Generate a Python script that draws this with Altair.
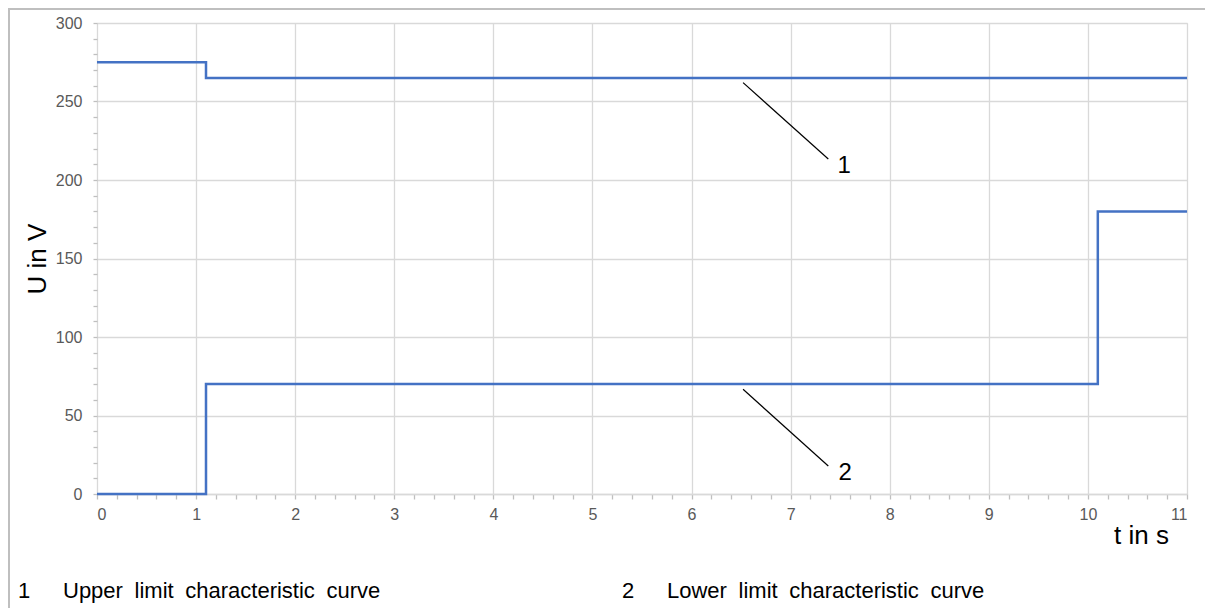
import altair as alt
import pandas as pd

# --- data -------------------------------------------------------------
upper_t = [0, 1.1, 11]
upper_u = [275, 265, 265]
lower_t = [0, 1.1, 10.1, 11]
lower_u = [0, 70, 180, 180]

x_ticks = [round(i * 0.2, 1) for i in range(56)]
y_ticks = list(range(0, 301, 10))

leader_labels = ["1", "2"]
leader_x1 = [6.52, 6.52]
leader_y1 = [262.0, 66.7]
leader_x2 = [7.38, 7.38]
leader_y2 = [213.4, 17.8]
label_x = [7.54, 7.55]
label_y = [209.0, 13.4]

footer_nums = ["1", "2"]
footer_texts = ["Upper \u2005limit \u2005characteristic \u2005curve",
                "Lower \u2005limit \u2005characteristic \u2005curve"]

# --- tables -------------------------------------------------------------
curves = pd.concat([
    pd.DataFrame({"t": upper_t, "U": upper_u, "curve": "upper"}),
    pd.DataFrame({"t": lower_t, "U": lower_u, "curve": "lower"}),
])
leaders = pd.DataFrame({"lab": leader_labels, "x1": leader_x1, "y1": leader_y1,
                        "x2": leader_x2, "y2": leader_y2,
                        "lx": label_x, "ly": label_y})

FONT = "Liberation Sans"
GRID = "#d9d9d9"
TICK = "#bfbfbf"
LABEL = "#595959"

is_int_x = "abs(datum.value - round(datum.value)) < 1e-6"
is_50_y = "datum.value % 50 === 0"

x_scale = alt.Scale(domain=[0, 11], nice=False, zero=False)
y_scale = alt.Scale(domain=[0, 300], nice=False)

x_axis = alt.Axis(
    values=x_ticks, tickCount=200, labelOverlap=False,
    labelExpr=f"{is_int_x} ? format(datum.value, 'd') : ''",
    grid=True, gridColor=GRID, gridWidth=1.3,
    gridOpacity={"condition": {"test": is_int_x, "value": 1}, "value": 0},
    tickColor=TICK, tickSize=5, tickWidth=1.3,
    domainColor=GRID, domainWidth=1.3,
    labelFont=FONT, labelFontSize=16, labelColor=LABEL, labelPadding=7,
    title="t in s", titleFont=FONT, titleFontSize=26, titleFontWeight="normal",
    titleColor="black", titleX=1044, titleY=49, titleAlign="center",
    titleBaseline="alphabetic",
)
y_axis = alt.Axis(
    values=y_ticks, tickCount=200, labelOverlap=False,
    labelExpr=f"{is_50_y} ? format(datum.value, 'd') : ''",
    grid=True, gridColor=GRID, gridWidth=1.3,
    gridOpacity={"condition": {"test": is_50_y, "value": 1}, "value": 0},
    tickColor=TICK, tickSize=4, tickWidth=1.3,
    domain=False,
    labelFont=FONT, labelFontSize=16, labelColor=LABEL, labelPadding=11,
    title="U in V", titleFont=FONT, titleFontSize=26, titleFontWeight="normal",
    titleColor="black", titleX=-52, titleY=235.5, titleAlign="center",
    titleBaseline="alphabetic", titleAngle=-90,
)

lines = alt.Chart(curves).mark_line(
    interpolate="step-after", color="#4472C4", strokeWidth=2.5
).encode(
    x=alt.X("t:Q", scale=x_scale, axis=x_axis),
    y=alt.Y("U:Q", scale=y_scale, axis=y_axis),
    detail="curve:N",
)

rules = alt.Chart(leaders).mark_rule(color="black", strokeWidth=1.2).encode(
    x=alt.X("x1:Q", scale=x_scale), y=alt.Y("y1:Q", scale=y_scale),
    x2="x2:Q", y2="y2:Q",
)
labels = alt.Chart(leaders).mark_text(
    font=FONT, fontSize=24, color="black", align="center", baseline="middle"
).encode(
    x=alt.X("lx:Q", scale=x_scale), y=alt.Y("ly:Q", scale=y_scale), text="lab:N"
)

def footer(txt, xpos):
    return alt.Chart(pd.DataFrame({"s": [txt]})).mark_text(
        font=FONT, fontSize=22, color="black", align="left", baseline="alphabetic"
    ).encode(x=alt.value(xpos), y=alt.value(575), text="s:N")

foot = (footer(footer_nums[0], -79) + footer(footer_texts[0], -34)
        + footer(footer_nums[1], 525) + footer(footer_texts[1], 570))

frame_top = alt.Chart(pd.DataFrame({"a": [0]})).mark_rule(
    color="#bfbfbf", strokeWidth=2).encode(
    x=alt.value(-89), x2=alt.value(1108), y=alt.value(-14))
frame_left = alt.Chart(pd.DataFrame({"a": [0]})).mark_rule(
    color="#bfbfbf", strokeWidth=2).encode(
    x=alt.value(-88), y=alt.value(-15), y2=alt.value(600))

chart = alt.layer(lines, rules, labels, foot, frame_top, frame_left).properties(
    width=1090, height=471,
    autosize=alt.AutoSizeParams(type="none"),
    padding={"left": 89, "top": 15, "right": 18, "bottom": 114},
).configure_view(stroke=None).configure(font=FONT)

chart.save("out.html", embed_options={"renderer": "svg", "actions": False})
